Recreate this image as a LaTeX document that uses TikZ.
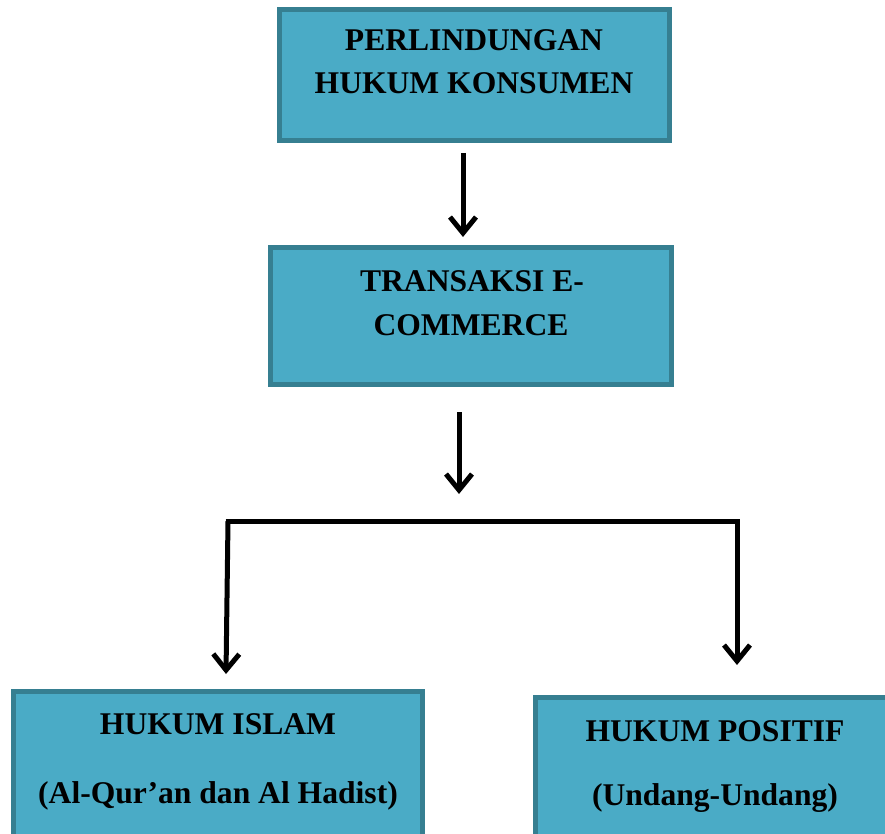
\documentclass[tikz,border=0pt]{standalone}
\usepackage{fontspec}
\setmainfont{Liberation Serif}
\usetikzlibrary{arrows.meta}
\definecolor{boxfill}{HTML}{4AABC6}
\definecolor{boxline}{HTML}{367F91}
\begin{document}
\begin{tikzpicture}[x=1pt,y=-1pt,
  box/.style={draw=boxline,fill=boxfill,line width=5pt,inner sep=0pt},
  lbl/.style={font=\fontsize{31.6}{38}\selectfont\bfseries,anchor=base,inner sep=0pt},
  conn/.style={line width=5pt,-{Straight Barb[length=16pt,width=26pt]}},
  bar/.style={line width=5pt}]
\clip (0,0) rectangle (885,834);
\useasboundingbox (0,0) rectangle (885,834);
% boxes
\node[box,minimum width=390pt,minimum height=131pt] (top) at (474.5,75) {};
\node[box,minimum width=401pt,minimum height=137pt] (mid) at (471,316) {};
\node[box,minimum width=409pt,minimum height=166pt] (left) at (218,774.5) {};
\node[box,minimum width=359pt,minimum height=160pt] (right) at (715,777.5) {};
% texts
\node[lbl] (t1) at (474,51) {PERLINDUNGAN};
\node[lbl] (t2) at (474,94) {HUKUM KONSUMEN};
\node[lbl] (m1) at (472,291) {TRANSAKSI E-};
\node[lbl] (m2) at (471,335) {COMMERCE};
\node[lbl] (l1) at (218,734) {HUKUM ISLAM};
\node[lbl] (l2) at (218,803) {(Al-Qur’an dan Al Hadist)};
\node[lbl] (r1) at (715,741) {HUKUM POSITIF};
\node[lbl] (r2) at (715,805) {(Undang-Undang)};
% connectors
\coordinate (a1s) at (463,153);
\coordinate (a1e) at (463,237);
\coordinate (a2s) at (459,412);
\coordinate (a2e) at (459,494);
\coordinate (bl) at (228,521);
\coordinate (br) at (737,521);
\coordinate (blt) at (226,674);
\coordinate (brt) at (737,665);
\draw[conn] (a1s) -- (a1e);
\draw[conn] (a2s) -- (a2e);
\draw[bar] ([xshift=-2.5pt]bl) -- ([xshift=2.5pt]br);
\draw[conn] (bl) -- (blt);
\draw[conn] (br) -- (brt);
\end{tikzpicture}
\end{document}
